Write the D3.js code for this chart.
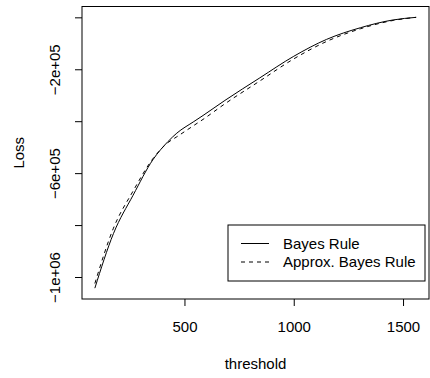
<!DOCTYPE html>
<html>
<head>
<meta charset="utf-8">
<script src="https://cdn.jsdelivr.net/npm/d3@7"></script>
<style>
  body { margin: 0; background: #fff; }
  svg text { font-family: "Liberation Sans", Arial, Helvetica, sans-serif; fill: #000; }
</style>
</head>
<body>
<svg id="chart" width="430" height="378"></svg>
<script>
// --- data
const threshold = [90, 175, 265, 355, 425, 465, 540, 585, 685, 845, 1000, 1150, 1305, 1455, 1560];
const bayesRule = [-1043e3, -833e3, -685e3, -549e3, -478e3, -446e3, -403e3, -378e3, -320e3, -233e3, -150e3, -85e3, -40e3, -10e3, 0];
const approxRule = [-1025e3, -812e3, -669e3, -545e3, -482e3, -460e3, -418e3, -393e3, -333e3, -245e3, -160e3, -93e3, -44e3, -12e3, 0];

const xTicks = [500, 1000, 1500];
const yTicks = [0, -2e5, -4e5, -6e5, -8e5, -1e6];
const yTickLabels = ['', '\u22122e+05', '', '\u22126e+05', '', '\u22121e+06'];
const legendLabels = ['Bayes Rule', 'Approx. Bayes Rule'];
const legendDash = [null, '4,4'];

const box = { left: 82, right: 429, top: 6.5, bottom: 299 };
const FONT = 15;

function padExtent(ext) {
    const p = (ext[1] - ext[0]) * 0.04;
    return [ext[0] - p, ext[1] + p];
}

function drawChart() {
    const svg = d3.select('#chart');

    const x = d3.scaleLinear()
        .domain(padExtent(d3.extent(threshold)))
        .range([box.left, box.right]);

    const y = d3.scaleLinear()
        .domain(padExtent(d3.extent(bayesRule.concat(approxRule))))
        .range([box.bottom, box.top]);

    // --- plot box
    svg.append('rect')
        .attr('x', box.left)
        .attr('y', box.top)
        .attr('width', box.right - box.left)
        .attr('height', box.bottom - box.top)
        .attr('fill', 'none')
        .attr('stroke', '#000')
        .attr('stroke-width', 1);

    // --- axes
    const xAxis = d3.axisBottom(x)
        .tickValues(xTicks)
        .tickSize(7)
        .tickPadding(6)
        .tickFormat(d3.format('d'));

    const gx = svg.append('g')
        .attr('transform', `translate(0, ${box.bottom})`)
        .call(xAxis);
    gx.select('.domain').remove();
    gx.selectAll('text')
        .attr('font-size', FONT)
        .attr('font-family', null)
        .attr('dy', '1.3em');

    const yAxis = d3.axisLeft(y)
        .tickValues(yTicks)
        .tickSize(7)
        .tickFormat((d, i) => yTickLabels[i]);

    const gy = svg.append('g')
        .attr('transform', `translate(${box.left}, 0)`)
        .call(yAxis);
    gy.select('.domain').remove();
    gy.selectAll('text')
        .attr('font-size', FONT)
        .attr('font-family', null)
        .attr('text-anchor', 'middle')
        .attr('dy', null)
        .attr('x', null)
        .attr('transform', 'translate(-22, 0) rotate(-90)');

    // --- axis titles
    svg.append('text')
        .attr('x', (box.left + box.right) / 2)
        .attr('y', 368.5)
        .attr('text-anchor', 'middle')
        .attr('font-size', FONT)
        .text('threshold');

    svg.append('text')
        .attr('transform', `translate(23.5, ${(box.top + box.bottom) / 2}) rotate(-90)`)
        .attr('text-anchor', 'middle')
        .attr('font-size', FONT)
        .text('Loss');

    // --- curves
    const line = d3.line()
        .x(d => x(d[0]))
        .y(d => y(d[1]))
        .curve(d3.curveMonotoneX);

    svg.append('path')
        .datum(d3.zip(threshold, bayesRule))
        .attr('fill', 'none')
        .attr('stroke', '#000')
        .attr('stroke-width', 1)
        .attr('d', line);

    svg.append('path')
        .datum(d3.zip(threshold, approxRule))
        .attr('fill', 'none')
        .attr('stroke', '#000')
        .attr('stroke-width', 1)
        .attr('stroke-dasharray', '4,4')
        .attr('d', line);

    // --- legend
    const lg = svg.append('g').attr('class', 'legend');
    lg.append('rect')
        .attr('x', 228)
        .attr('y', 225)
        .attr('width', 197)
        .attr('height', 56)
        .attr('fill', '#fff')
        .attr('stroke', '#000');

    legendLabels.forEach((label, i) => {
        const ly = 243.5 + i * 18.5;
        lg.append('line')
            .attr('x1', 241)
            .attr('x2', 269)
            .attr('y1', ly)
            .attr('y2', ly)
            .attr('stroke', '#000')
            .attr('stroke-dasharray', legendDash[i]);
        lg.append('text')
            .attr('x', 283)
            .attr('y', ly)
            .attr('dy', '0.35em')
            .attr('font-size', FONT)
            .text(label);
    });
}

drawChart();
</script>
</body>
</html>
